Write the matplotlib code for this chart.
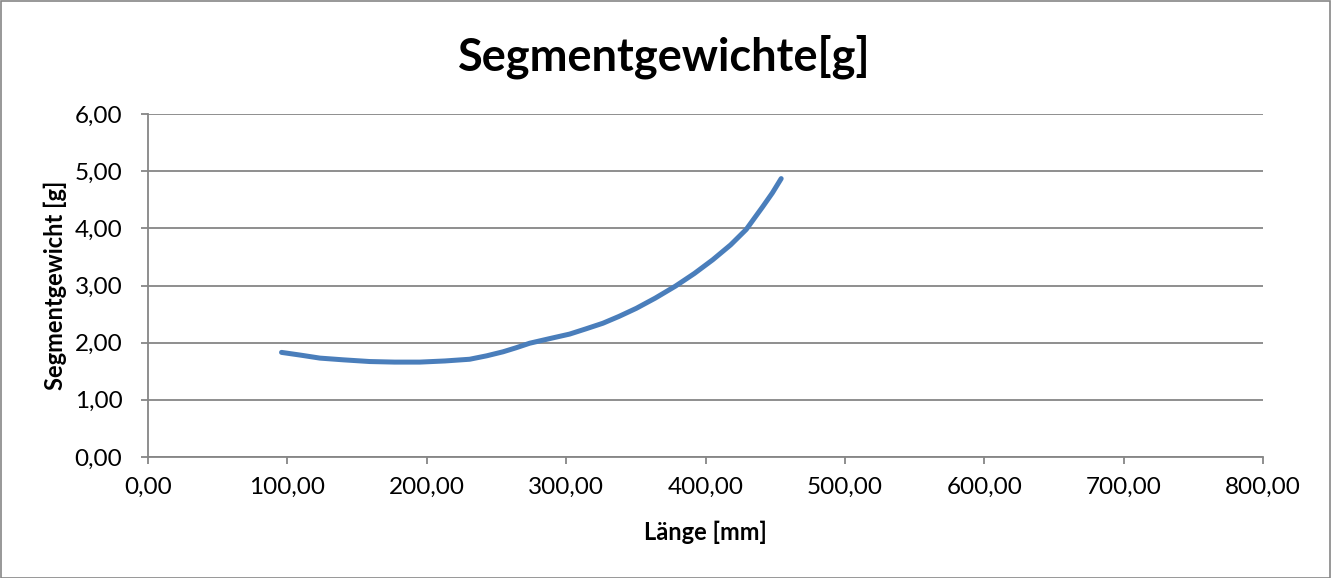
import matplotlib
matplotlib.use("Agg")
import matplotlib.pyplot as plt
from matplotlib.ticker import FuncFormatter, MultipleLocator
from matplotlib.patches import Rectangle

# Data
laenge_mm = [95.8, 110.0, 123.3, 140.0, 159.1, 177.0, 195.0, 213.0, 230.8,
             243.0, 254.7, 264.0, 273.8, 288.0, 302.5, 314.0, 326.4, 338.0,
             350.3, 364.0, 378.5, 392.0, 405.2, 418.0, 429.2, 441.1, 448.0, 454.3]
gewicht_g = [1.83, 1.78, 1.73, 1.70, 1.67, 1.66, 1.66, 1.68, 1.71,
             1.77, 1.84, 1.91, 1.99, 2.07, 2.15, 2.24, 2.34, 2.46,
             2.60, 2.78, 2.99, 3.21, 3.45, 3.71, 3.98, 4.38, 4.62, 4.87]

title = "Segmentgewichte[g]"
xlabel = "Länge [mm]"
ylabel = "Segmentgewicht [g]"

plt.rcParams['font.family'] = ['Lato', 'DejaVu Sans']

W, H = 1331, 578
fig = plt.figure(figsize=(W / 100, H / 100), dpi=100)
ax = fig.add_axes([148 / W, 1 - 457 / H, (1263 - 148) / W, (457 - 114) / H])

grid_col = "#868686"
line_col = "#4A7EBB"

ax.plot(laenge_mm, gewicht_g, color=line_col, lw=3.6, solid_capstyle='round',
        solid_joinstyle='round', zorder=3)

ax.set_xlim(0, 800)
ax.set_ylim(0, 6)
ax.xaxis.set_major_locator(MultipleLocator(100))
ax.yaxis.set_major_locator(MultipleLocator(1))
fmt = FuncFormatter(lambda v, p: f"{v:.2f}".replace('.', ','))
ax.xaxis.set_major_formatter(fmt)
ax.yaxis.set_major_formatter(fmt)

ax.grid(axis='y', color=grid_col, lw=1.3)
ax.set_axisbelow(True)
for s in ['top', 'right']:
    ax.spines[s].set_visible(False)
for s in ['left', 'bottom']:
    ax.spines[s].set_color(grid_col)
    ax.spines[s].set_linewidth(1.3)

ax.tick_params(axis='both', direction='out', length=5, width=1.3, color=grid_col,
               labelsize=17.5, labelcolor='black')
ax.tick_params(axis='x', pad=9)
ax.tick_params(axis='y', pad=13.5)

fig.text(705.5 / W, 1 - 532 / H, xlabel, fontsize=17, fontweight='bold',
         ha='center', va='center')
fig.text(55 / W, 1 - 285.5 / H, ylabel, fontsize=17, fontweight='bold',
         ha='center', va='center', rotation=90)

fig.text(664 / W, 1 - 57 / H, title, fontsize=32.5, fontweight='bold',
         ha='center', va='center')

# outer chart border
fig.patches.append(Rectangle((0.5 / W, 0.5 / H), (W - 1.5) / W, (H - 1.5) / H,
                             transform=fig.transFigure, fill=False,
                             edgecolor=grid_col, lw=1.2))

fig.savefig("out.png", dpi=100, facecolor='white')
